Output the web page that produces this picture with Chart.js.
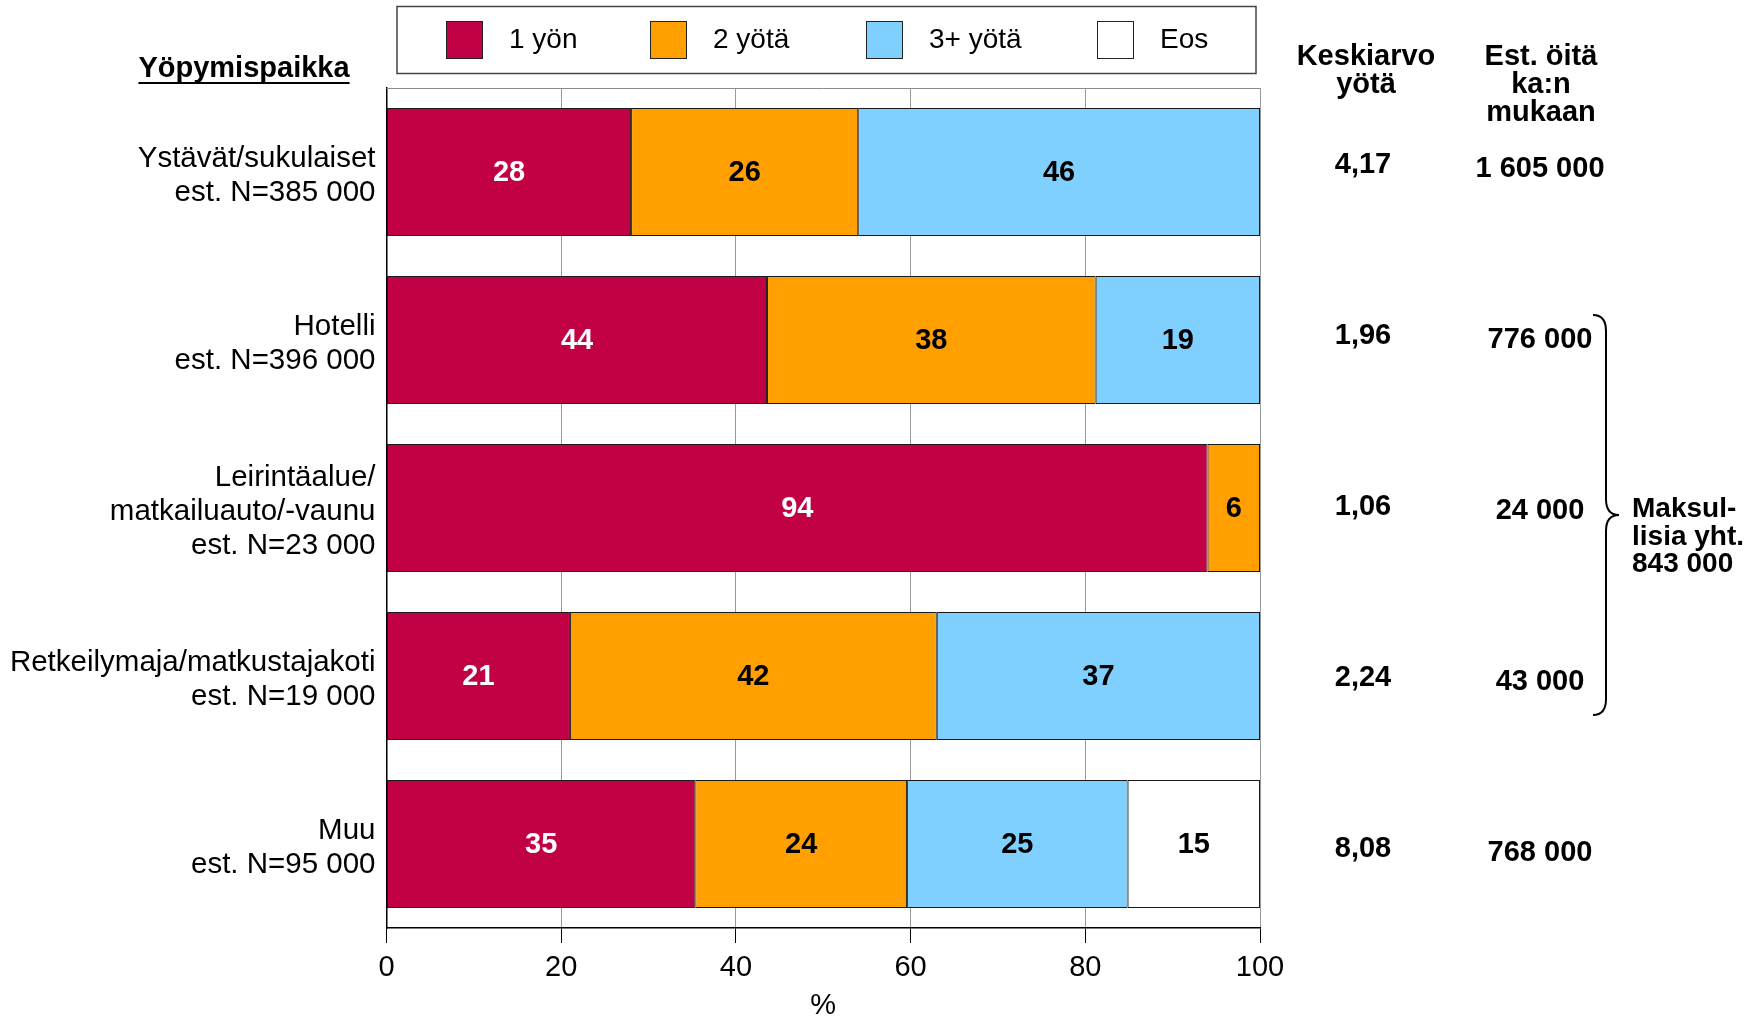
<!DOCTYPE html>
<html>
<head>
<meta charset="utf-8">
<script src="https://cdn.jsdelivr.net/npm/chart.js@4.4.1/dist/chart.umd.min.js"></script>
<style>
  html, body { margin: 0; padding: 0; background: #fff; }
  #wrap { width: 1762px; height: 1017px; position: relative; }
</style>
</head>
<body>
<div id="wrap"><canvas id="chart"></canvas></div>
<script>
// Yöpymispaikat (rivit ylhäältä alas)
const categories = [
    ['Ystävät/sukulaiset', 'est. N=385 000'],
    ['Hotelli', 'est. N=396 000'],
    ['Leirintäalue/', 'matkailuauto/-vaunu', 'est. N=23 000'],
    ['Retkeilymaja/matkustajakoti', 'est. N=19 000'],
    ['Muu', 'est. N=95 000']
];
const seriesNames = ['1 yön', '2 yötä', '3+ yötä', 'Eos'];
const yksiYo = [28, 44, 94, 21, 35];
const kaksiYota = [26, 38, 6, 42, 24];
const kolmeYota = [46, 19, 0, 37, 25];
const eos = [0, 0, 0, 0, 15];
const xTicks = [0, 20, 40, 60, 80, 100];

// Oikean reunan sarakkeet
const keskiarvoYota = ['4,17', '1,96', '1,06', '2,24', '8,08'];
const estOita = ['1 605 000', '776 000', '24 000', '43 000', '768 000'];
const maksullisetTeksti = ['Maksul-', 'lisia yht.', '843 000'];

const colors = ['#C20045', '#FFA000', '#80D0FF', '#FFFFFF'];
const FONT = '"Liberation Sans", Arial, sans-serif';

Chart.defaults.font.family = FONT;
Chart.defaults.color = '#000';

const seriesData = [yksiYo, kaksiYota, kolmeYota, eos];
// 100 % pinottu: jokainen rivi skaalataan summaansa (pyöristetyt luvut eivät aina summaudu sataan)
const rowTotals = categories.map((c, j) => seriesData.reduce((s, arr) => s + arr[j], 0));

const extras = {
    id: 'extras',
    beforeDatasetsDraw(chart) {
        const { ctx, chartArea } = chart;
        // kehyksen yläreuna
        ctx.save();
        ctx.strokeStyle = '#8c8c8c';
        ctx.lineWidth = 1;
        ctx.beginPath();
        ctx.moveTo(chartArea.left, chartArea.top + 0.5);
        ctx.lineTo(chartArea.right, chartArea.top + 0.5);
        ctx.stroke();
        ctx.restore();
    },
    afterDatasetsDraw(chart) {
        const { ctx } = chart;
        ctx.save();
        ctx.font = 'bold 29px ' + FONT;
        ctx.textAlign = 'center';
        ctx.textBaseline = 'middle';
        chart.data.datasets.forEach((ds, i) => {
            const meta = chart.getDatasetMeta(i);
            meta.data.forEach((bar, j) => {
                const v = seriesData[i][j];
                if (!v) return;
                ctx.fillStyle = i === 0 ? '#fff' : '#000';
                ctx.fillText(String(v), (bar.base + bar.x) / 2, bar.y + 1);
            });
        });
        ctx.restore();
    },
    afterDraw(chart) {
        const { ctx } = chart;
        const yScale = chart.scales.y;
        ctx.save();

        // selite
        ctx.strokeStyle = '#444';
        ctx.lineWidth = 1.5;
        ctx.strokeRect(397, 6.5, 859, 67);
        const legendX = [446, 650, 866, 1097];
        chart.data.datasets.forEach((ds, i) => {
            const x = legendX[i];
            ctx.fillStyle = ds.backgroundColor;
            ctx.fillRect(x, 21, 37, 38);
            ctx.strokeStyle = '#222';
            ctx.lineWidth = 1;
            ctx.strokeRect(x + 0.5, 21.5, 36, 37);
            ctx.fillStyle = '#000';
            ctx.font = '28px ' + FONT;
            ctx.textAlign = 'left';
            ctx.textBaseline = 'middle';
            ctx.fillText(ds.label, x + 37 + 26, 40);
        });

        // Yöpymispaikka-otsikko
        ctx.font = 'bold 29px ' + FONT;
        ctx.textAlign = 'center';
        ctx.textBaseline = 'middle';
        const otsikko = 'Yöpymispaikka';
        ctx.fillText(otsikko, 244, 69);
        const w = ctx.measureText(otsikko).width;
        ctx.fillRect(244 - w / 2, 82, w, 2);

        // sarakeotsikot
        ctx.font = 'bold 29px ' + FONT;
        ctx.textBaseline = 'alphabetic';
        ['Keskiarvo', 'yötä'].forEach((t, k) => ctx.fillText(t, 1366, 65 + k * 28));
        ['Est. öitä', 'ka:n', 'mukaan'].forEach((t, k) => ctx.fillText(t, 1541, 65 + k * 28));

        // arvot riveittäin (tekstirivien väli hieman palkkiväliä suurempi)
        ctx.textBaseline = 'middle';
        categories.forEach((c, i) => {
            const y = yScale.getPixelForValue(i) + (i - 2) * 2.8;
            ctx.fillText(keskiarvoYota[i], 1363, y - 1);
            ctx.fillText(estOita[i], 1540, y + 3);
        });

        // aaltosulje maksullisille (rivit 1-3)
        const top = yScale.getPixelForValue(1) - 25;
        const bottom = yScale.getPixelForValue(3) + 39;
        const mid = (top + bottom) / 2;
        const bx = 1593, sx = 1606, tip = 1619;
        ctx.strokeStyle = '#000';
        ctx.lineWidth = 2;
        ctx.beginPath();
        ctx.moveTo(bx, top);
        ctx.quadraticCurveTo(sx, top, sx, top + 16);
        ctx.lineTo(sx, mid - 16);
        ctx.quadraticCurveTo(sx, mid, tip, mid);
        ctx.quadraticCurveTo(sx, mid, sx, mid + 16);
        ctx.lineTo(sx, bottom - 16);
        ctx.quadraticCurveTo(sx, bottom, bx, bottom);
        ctx.stroke();

        ctx.font = 'bold 28px ' + FONT;
        ctx.textAlign = 'left';
        ctx.textBaseline = 'alphabetic';
        maksullisetTeksti.forEach((t, k) => ctx.fillText(t, 1632, mid + 2 + k * 27.5));

        ctx.restore();
    }
};

new Chart(document.getElementById('chart'), {
    type: 'bar',
    data: {
        labels: categories,
        datasets: seriesNames.map((name, i) => ({
            label: name,
            data: seriesData[i].map((v, j) => v / rowTotals[j] * 100),
            backgroundColor: colors[i],
            borderColor: '#1a1a1a',
            borderWidth: 1,
            borderSkipped: false,
            categoryPercentage: 1,
            barPercentage: 0.762
        }))
    },
    options: {
        indexAxis: 'y',
        responsive: true,
        maintainAspectRatio: false,
        animation: false,
        events: [],
        layout: { padding: { top: 88, right: 502, bottom: 0, left: 0 } },
        plugins: {
            legend: { display: false },
            tooltip: { enabled: false }
        },
        scales: {
            x: {
                stacked: true,
                min: 0,
                max: 100,
                afterBuildTicks: s => { s.ticks = xTicks.map(v => ({ value: v })); },
                afterFit: s => { s.height = 89; },
                grid: { color: '#9a9a9a', lineWidth: 1, tickColor: '#000', tickLength: 15 },
                border: { color: '#000', width: 1.5 },
                ticks: { font: { size: 29 }, color: '#000', padding: 8, maxRotation: 0 },
                title: { display: true, text: '%', font: { size: 29, lineHeight: 0.75 }, color: '#000', padding: 0 }
            },
            y: {
                stacked: true,
                afterFit: s => { s.width = 386.5; },
                grid: { display: false, drawTicks: false },
                border: { color: '#000', width: 1.5 },
                ticks: { font: { size: 29.5, lineHeight: 1.15 }, color: '#000', padding: 11, labelOffset: 3.5, autoSkip: false }
            }
        }
    },
    plugins: [extras]
});
</script>
</body>
</html>
